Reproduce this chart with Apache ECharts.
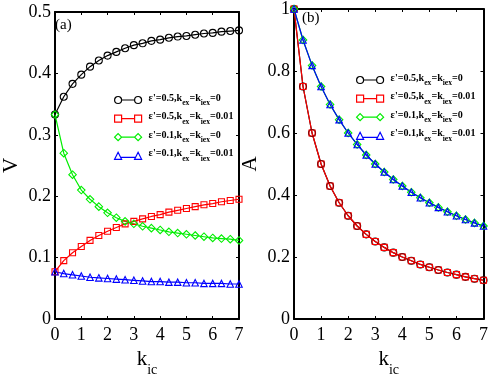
<!DOCTYPE html>
<html>
<head>
<meta charset="utf-8">
<script src="https://cdn.jsdelivr.net/npm/echarts@6/dist/echarts.min.js"></script>
<style>
  html, body { margin: 0; padding: 0; background: #fff; }
  #chart { width: 491px; height: 382px; }
</style>
</head>
<body>
<div id="chart"></div>
<script>
// k_ic values (step 1/3)
var kic = [0, 0.333, 0.667, 1, 1.333, 1.667, 2, 2.333, 2.667, 3, 3.333, 3.667, 4, 4.333, 4.667, 5, 5.333, 5.667, 6, 6.333, 6.667, 7];

// panel (a): V
var vBlack = [0.333, 0.362, 0.383, 0.398, 0.411, 0.421, 0.429, 0.435, 0.441, 0.446, 0.449, 0.453, 0.455, 0.458, 0.460, 0.461, 0.463, 0.465, 0.466, 0.468, 0.469, 0.470];
var vRed = [0.077, 0.095, 0.108, 0.118, 0.128, 0.136, 0.143, 0.149, 0.155, 0.159, 0.163, 0.167, 0.170, 0.174, 0.177, 0.180, 0.183, 0.186, 0.188, 0.191, 0.193, 0.195];
var vGreen = [0.333, 0.270, 0.235, 0.210, 0.195, 0.183, 0.173, 0.165, 0.159, 0.155, 0.151, 0.148, 0.145, 0.142, 0.140, 0.138, 0.136, 0.134, 0.132, 0.131, 0.130, 0.128];
var vBlue = [0.077, 0.074, 0.072, 0.070, 0.068, 0.067, 0.066, 0.065, 0.064, 0.063, 0.062, 0.061, 0.061, 0.060, 0.060, 0.059, 0.059, 0.058, 0.058, 0.058, 0.057, 0.057];

// panel (b): A
var aBlack = [1, 0.75, 0.6, 0.5, 0.429, 0.375, 0.333, 0.3, 0.273, 0.25, 0.231, 0.214, 0.2, 0.188, 0.176, 0.167, 0.158, 0.15, 0.143, 0.136, 0.13, 0.125];
var aRed = [1, 0.75, 0.6, 0.5, 0.429, 0.375, 0.333, 0.3, 0.273, 0.25, 0.231, 0.214, 0.2, 0.188, 0.176, 0.167, 0.158, 0.15, 0.143, 0.136, 0.13, 0.125];
var aGreen = [1, 0.9, 0.818, 0.75, 0.692, 0.643, 0.6, 0.563, 0.529, 0.5, 0.474, 0.45, 0.429, 0.409, 0.391, 0.375, 0.36, 0.346, 0.333, 0.321, 0.31, 0.3];
var aBlue = [1, 0.9, 0.818, 0.75, 0.692, 0.643, 0.6, 0.563, 0.529, 0.5, 0.474, 0.45, 0.429, 0.409, 0.391, 0.375, 0.36, 0.346, 0.333, 0.321, 0.31, 0.3];

var names = ["e1", "e2", "e3", "e4"];
var labels = {
  e1: "{b|ε'=0.5,k}{s|ex}{b|=k}{s|iex}{b|=0}",
  e2: "{b|ε'=0.5,k}{s|ex}{b|=k}{s|iex}{b|=0.01}",
  e3: "{b|ε'=0.1,k}{s|ex}{b|=k}{s|iex}{b|=0}",
  e4: "{b|ε'=0.1,k}{s|ex}{b|=k}{s|iex}{b|=0.01}"
};
var colors = ['#000000', '#ff0000', '#00ee00', '#0000ff'];
var symbols = ['circle', 'rect', 'diamond', 'triangle'];
var sizes = [7, 6, 7.5, 6.5];
var icons = [
  'path://M0.5,5a3.5,3.5 0 1,0 7,0a3.5,3.5 0 1,0 -7,0M7.5,5L20.5,5M20.5,5a3.5,3.5 0 1,0 7,0a3.5,3.5 0 1,0 -7,0',
  'path://M0.5,1.5L7.5,1.5L7.5,8.5L0.5,8.5ZM7.5,5L20.5,5M20.5,1.5L27.5,1.5L27.5,8.5L20.5,8.5Z',
  'path://M0.5,5L4,1.5L7.5,5L4,8.5ZM7.5,5L20.5,5M20.5,5L24,1.5L27.5,5L24,8.5Z',
  'path://M0.5,8.5L4,1.5L7.5,8.5ZM6,6.5L22,6.5M20.5,8.5L24,1.5L27.5,8.5Z'
];

var serif = "'Liberation Serif', 'Times New Roman', serif";

function mkSeries(i, data, xi, yi) {
  return {
    name: names[i], type: 'line', xAxisIndex: xi, yAxisIndex: yi,
    data: kic.map(function (k, j) { return [k, data[j]]; }),
    symbol: symbols[i], symbolSize: sizes[i], clip: false,
    lineStyle: { color: colors[i], width: 1.2 },
    itemStyle: { color: 'rgba(0,0,0,0)', borderColor: colors[i], borderWidth: 1.1 },
    emphasis: { disabled: true }, silent: true
  };
}

function legendFor(left, top) {
  return {
    orient: 'vertical', left: left, top: top, itemWidth: 27, itemHeight: 7, itemGap: 4.6,
    selectedMode: false, padding: 0, symbolKeepAspect: false,
    formatter: function (n) { return labels[n]; },
    textStyle: {
      padding: [0, 0, 0, 2],
      rich: {
        b: { fontFamily: serif, fontWeight: 'bold', fontSize: 10.1, lineHeight: 14, verticalAlign: 'top', color: '#000' },
        s: { fontFamily: serif, fontWeight: 'bold', fontSize: 7.6, lineHeight: 7.6, verticalAlign: 'bottom', color: '#000' }
      }
    },
    data: names.map(function (n, i) {
      return { name: n, icon: icons[i], itemStyle: { color: 'rgba(0,0,0,0)', borderColor: colors[i], borderWidth: 1.2 } };
    })
  };
}

function xAx(grid, pos, showName) {
  return {
    type: 'value', gridIndex: grid, position: pos, min: 0, max: 7, interval: 1,
    axisLine: { onZero: false, lineStyle: { color: '#000', width: 2 } },
    axisTick: { inside: true, length: 3, lineStyle: { color: '#000' } },
    axisLabel: { show: pos === 'bottom', margin: 7, fontFamily: serif, fontSize: 18, color: '#000' },
    splitLine: { show: false },
    name: showName ? '{k|k}{s|ic}' : '', nameLocation: 'middle', nameGap: 30,
    nameTextStyle: {
      rich: {
        k: { fontFamily: serif, fontSize: 21, lineHeight: 28, verticalAlign: 'top', color: '#000' },
        s: { fontFamily: serif, fontSize: 14, lineHeight: 14, verticalAlign: 'bottom', color: '#000' }
      }
    }
  };
}

function yAx(grid, pos, max, interval, nm) {
  return {
    type: 'value', gridIndex: grid, position: pos, min: 0, max: max, interval: interval,
    axisLine: { onZero: false, lineStyle: { color: '#000', width: 2 } },
    axisTick: { inside: true, length: 3, lineStyle: { color: '#000' } },
    axisLabel: { show: pos === 'left', margin: 4, fontFamily: serif, fontSize: 18, color: '#000' },
    splitLine: { show: false },
    name: nm || '', nameLocation: 'middle', nameGap: 33, nameRotate: 90,
    nameTextStyle: { fontFamily: serif, fontSize: 21, color: '#000' }
  };
}

var chart = echarts.init(document.getElementById('chart'));
chart.setOption({
  animation: false,
  backgroundColor: '#fff',
  title: [
    { text: '(a)', left: 55, top: 18, padding: 0, textStyle: { fontFamily: serif, fontSize: 15, fontWeight: 'normal', color: '#000' } },
    { text: '(b)', left: 302, top: 11, padding: 0, textStyle: { fontFamily: serif, fontSize: 15, fontWeight: 'normal', color: '#000' } }
  ],
  grid: [
    { left: 49, top: 12, right: 252, bottom: 52 },
    { left: 294, top: 8, right: 7, bottom: 52 }
  ],
  legend: [legendFor(114, 93), legendFor(356, 73)],
  xAxis: [xAx(0, 'bottom', true), xAx(0, 'top', false), xAx(1, 'bottom', true), xAx(1, 'top', false)],
  yAxis: [yAx(0, 'left', 0.5, 0.1, 'V'), yAx(0, 'right', 0.5, 0.1), yAx(1, 'left', 1, 0.2, 'A'), yAx(1, 'right', 1, 0.2)],
  series: [
    mkSeries(0, vBlack, 0, 0), mkSeries(1, vRed, 0, 0), mkSeries(2, vGreen, 0, 0), mkSeries(3, vBlue, 0, 0),
    mkSeries(0, aBlack, 2, 2), mkSeries(1, aRed, 2, 2), mkSeries(2, aGreen, 2, 2), mkSeries(3, aBlue, 2, 2)
  ]
});
</script>
</body>
</html>
